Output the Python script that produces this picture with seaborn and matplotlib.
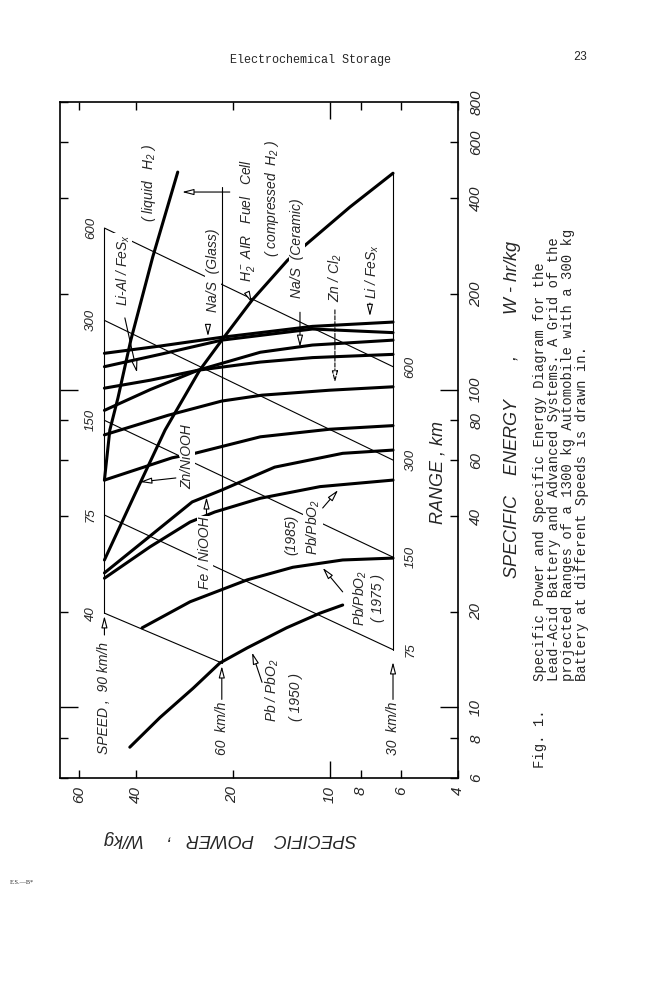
import pandas as pd
import matplotlib
matplotlib.use("Agg")
import matplotlib.pyplot as plt
import seaborn as sns

# ---- battery curves: power W/kg, energy W-hr/kg
pb1950_power = [41.7, 33.6, 26.5, 21.9, 18.0, 13.6, 10.7, 9.1]
pb1950_energy = [7.5, 9.3, 11.5, 13.8, 15.4, 17.8, 19.8, 21.0]
pb1975_power = [38.2, 27.1, 18.0, 13.0, 9.1, 6.35]
pb1975_energy = [17.8, 21.5, 25.2, 27.6, 29.1, 29.5]
pb1985_power = [50, 36.1, 27.1, 22.7, 16.4, 10.7, 6.35]
pb1985_energy = [25.5, 32, 38.3, 41.2, 45.5, 49.5, 51.9]
fe_power = [50, 37.4, 26.7, 21.6, 14.8, 9.1, 6.35]
fe_energy = [26.5, 33.6, 44.3, 48.3, 57.0, 63, 64.5]
znni_power = [50, 30.8, 26.2, 16.4, 10.0, 6.35]
znni_energy = [51.9, 61, 63, 71, 75, 77]
zncl_power = [50, 31.7, 21.6, 16.2, 10, 6.35]
zncl_energy = [72, 83, 92, 96, 99.5, 102]
nas_cer_power = [50, 36, 25.6, 16.4, 11.3, 6.35]
nas_cer_energy = [86, 100, 115, 131, 138, 143]
lial_power = [50, 36, 25.6, 16.4, 11.3, 6.35]
lial_energy = [101, 107, 115, 122, 126, 129]
nas_gl_power = [50, 33.6, 21.6, 11.3, 6.35]
nas_gl_energy = [118, 129, 143, 155, 151]
lifes_power = [50, 33.6, 21.6, 11.3, 6.35]
lifes_energy = [130, 137, 146, 158, 163]
h2c_power = [50, 40.2, 32.4, 25.3, 21.6, 17.4, 13.5, 8.64, 6.35]
h2c_energy = [29.1, 46.9, 74.6, 115, 143, 191, 255, 375, 479]
h2l_power = [50, 48.1, 45.4, 41.4, 35.4, 29.6]
h2l_energy = [51.9, 74.6, 94, 143, 261, 483]

# ---- range grid (km) for the 1300 kg car, and the speed lines
range_km = [40, 75, 150, 300, 600]
range_e90 = [19.8, 40.3, 80, 165, 322]
range_p_end = [21.6, 6.35, 6.35, 6.35, 6.35]
range_e_end = [13.8, 15.2, 29.7, 60, 118]
speed_names = ["90", "60", "30"]
speed_power = [50, 21.6, 6.35]
speed_e_low = [19.8, 13.8, 15.2]
speed_e_high = [322, 433, 479]

power_ticks = [60, 40, 20, 10, 8, 6, 4]
energy_ticks = [6, 8, 10, 20, 40, 60, 80, 100, 200, 400, 600, 800]

curves = [("Pb 1950", pb1950_power, pb1950_energy),
          ("Pb 1975", pb1975_power, pb1975_energy),
          ("Pb 1985", pb1985_power, pb1985_energy),
          ("Fe/NiOOH", fe_power, fe_energy),
          ("Zn/NiOOH", znni_power, znni_energy),
          ("Zn/Cl2", zncl_power, zncl_energy),
          ("Na/S ceramic", nas_cer_power, nas_cer_energy),
          ("Li-Al/FeSx", lial_power, lial_energy),
          ("Na/S glass", nas_gl_power, nas_gl_energy),
          ("Li/FeSx", lifes_power, lifes_energy),
          ("H2 compressed", h2c_power, h2c_energy),
          ("H2 liquid", h2l_power, h2l_energy)]

rows = []
for name, p, e in curves:
    for pi, ei in zip(p, e):
        rows.append((name, pi, ei))
curve_df = pd.DataFrame(rows, columns=["name", "power", "energy"])

rows = []
for r, e0, p1, e1 in zip(range_km, range_e90, range_p_end, range_e_end):
    rows.append((r, speed_power[0], e0))
    rows.append((r, p1, e1))
range_df = pd.DataFrame(rows, columns=["range", "power", "energy"])

rows = []
for s, p, lo, hi in zip(speed_names, speed_power, speed_e_low, speed_e_high):
    rows.append((s, p, lo))
    rows.append((s, p, hi))
speed_df = pd.DataFrame(rows, columns=["speed", "power", "energy"])

sns.set_style("white")
plt.rcParams["font.family"] = ["Liberation Sans", "DejaVu Sans"]
plt.rcParams["font.style"] = "italic"
plt.rcParams["mathtext.default"] = "regular"

fig = plt.figure(figsize=(6.5, 10), dpi=100)
ax = fig.add_axes([0.0923, 0.222, 0.6123, 0.6756])
ax.set_xscale("log")
ax.set_yscale("log")

sns.lineplot(data=range_df, x="power", y="energy", units="range", estimator=None,
             sort=False, color="black", linewidth=0.8, ax=ax)
sns.lineplot(data=speed_df, x="power", y="energy", units="speed", estimator=None,
             sort=False, color="black", linewidth=0.8, ax=ax)
sns.lineplot(data=curve_df, x="power", y="energy", units="name", estimator=None,
             sort=False, color="black", linewidth=2.2, ax=ax)

ax.set_xlim(68.7, 3.99)
ax.set_ylim(6, 800)
ax.set_xticks(power_ticks, labels=[str(v) for v in power_ticks])
ax.set_yticks(energy_ticks, labels=[str(v) for v in energy_ticks])
ax.minorticks_off()
ax.set_xlabel("")
ax.set_ylabel("")
ax.tick_params(axis="both", direction="in", length=6, width=1, color="black",
               top=True, bottom=True, left=True, right=True,
               labelleft=False, labelright=True, labeltop=False, labelbottom=True,
               labelsize=11, labelrotation=90)
ax.tick_params(axis="x", pad=6)
ax.tick_params(axis="y", pad=8)
for t, v in zip(ax.xaxis.get_major_ticks(), power_ticks):
    if v == 10:
        t.tick1line.set_markersize(12)
        t.tick2line.set_markersize(12)
for t, v in zip(ax.yaxis.get_major_ticks(), energy_ticks):
    if v in (10, 100):
        t.tick1line.set_markersize(13)
        t.tick2line.set_markersize(13)
plt.setp(ax.get_yticklabels(), va="center")
for sp in ax.spines.values():
    sp.set_color("black")
    sp.set_linewidth(1.2)

# range numbers at both ends of the grid
for r, e in zip(range_km, range_e90):
    ax.text(55, e, str(r), rotation=90, ha="center", va="center", fontsize=9.5)
for r, p, e in zip(range_km, range_p_end, range_e_end):
    if p < 10:
        ax.text(5.6, e, str(r), rotation=90, ha="center", va="center", fontsize=9.5)

labels = [("( liquid   H$_2$ )", 36.3, 445),
          ("Li-Al / FeS$_x$", 43.8, 238),
          ("Na/S  (Glass)", 23.0, 238),
          ("H$_2^-$ AIR   Fuel   Cell", 18.0, 341),
          ("( compressed  H$_2$ )", 15.1, 400),
          ("Na/S  (Ceramic)", 12.6, 278),
          ("Zn / Cl$_2$", 9.62, 224),
          ("Li / FeS$_x$", 7.38, 236),
          ("Zn/NiOOH", 27.7, 61.4),
          ("Fe / NiOOH", 24.4, 30.6),
          ("(1985)", 13.1, 34.9),
          ("Pb/PbO$_2$", 11.25, 36.9),
          ("Pb/PbO$_2$", 8.0, 22.1),
          ("( 1975 )", 7.06, 22.1),
          ("Pb / PbO$_2$", 15.0, 11.35),
          ("( 1950 )", 12.7, 10.8),
          ("SPEED ,  90 km/h", 50, 10.7),
          ("60  km/h", 21.6, 8.6),
          ("30  km/h", 6.35, 8.6)]
for s, p, e in labels:
    ax.text(p, e, s, rotation=90, ha="center", va="center", fontsize=10, zorder=5,
            bbox=dict(fc="white", ec="none", pad=0.6))

# small pointer arrows: tail power, tail energy, tip power, tip energy, line style
arrows = [(43.2, 168, 39.6, 113, "-"),
          (23.85, 160, 23.85, 147, "-"),
          (18.0, 201, 17.4, 187, "-"),
          (12.35, 175, 12.35, 136, "-"),
          (9.62, 178, 9.62, 105, "--"),
          (7.49, 187, 7.49, 170, "-"),
          (30.0, 52.7, 38.8, 51.2, "-"),
          (24.1, 40.6, 24.1, 45.9, "-"),
          (10.5, 42.4, 9.4, 48.3, "-"),
          (9.1, 23.1, 10.5, 27.5, "-"),
          (16.2, 12.0, 17.4, 14.9, "-"),
          (20.4, 418, 28.7, 418, "-"),
          (50, 16.9, 50, 19.4, "-"),
          (21.6, 10.6, 21.6, 13.5, "-"),
          (6.35, 10.6, 6.35, 13.9, "-")]
for p0, e0, p1, e1, ls in arrows:
    ax.annotate("", xy=(p1, e1), xytext=(p0, e0), zorder=6,
                arrowprops=dict(arrowstyle="-|>,head_length=0.7,head_width=0.18",
                                fc="white", ec="black", lw=0.8, ls=ls,
                                shrinkA=0, shrinkB=0))

ax.text(4.6, 55, "RANGE , km", rotation=90, ha="center", va="center", fontsize=13)

# axis titles, drawn turned like the page
fig.text(0.7877, 0.512, "SPECIFIC    ENERGY", rotation=90, ha="center", va="center", fontsize=13)
fig.text(0.7877, 0.643, ",", rotation=90, ha="center", va="center", fontsize=13)
fig.text(0.7877, 0.722, "W - hr/kg", rotation=90, ha="center", va="center", fontsize=13)
fig.text(0.417, 0.162, "SPECIFIC    POWER", rotation=180, ha="center", va="center", fontsize=13)
fig.text(0.258, 0.158, ",", rotation=180, ha="center", va="center", fontsize=13)
fig.text(0.186, 0.162, "W/kg", rotation=180, ha="center", va="center", fontsize=13)

# page furniture
fig.text(0.477, 0.940, "Electrochemical Storage", ha="center", va="center",
         family="Liberation Mono", style="normal", fontsize=8.5)
fig.text(0.892, 0.943, "23", ha="center", va="center",
         family="Liberation Mono", style="normal", fontsize=8.5)
fig.text(0.034, 0.118, "E.S.—B*", ha="center", va="center",
         family="Liberation Serif", style="normal", fontsize=4.5)
caption = ["Specific Power and Specific Energy Diagram for the",
           "Lead-Acid Battery and Advanced Systems. A Grid of the",
           "projected Ranges of a 1300 kg Automobile with a 300 kg",
           "Battery at different Speeds is drawn in."]
for i, line in enumerate(caption):
    fig.text(0.8308 + i * 0.0215, 0.319, line, rotation=90, ha="center", va="bottom",
             family="Liberation Mono", style="normal", fontsize=10)
fig.text(0.8308, 0.232, "Fig. 1.", rotation=90, ha="center", va="bottom",
         family="Liberation Mono", style="normal", fontsize=10)

fig.savefig("out.png", dpi=100, facecolor="white")
